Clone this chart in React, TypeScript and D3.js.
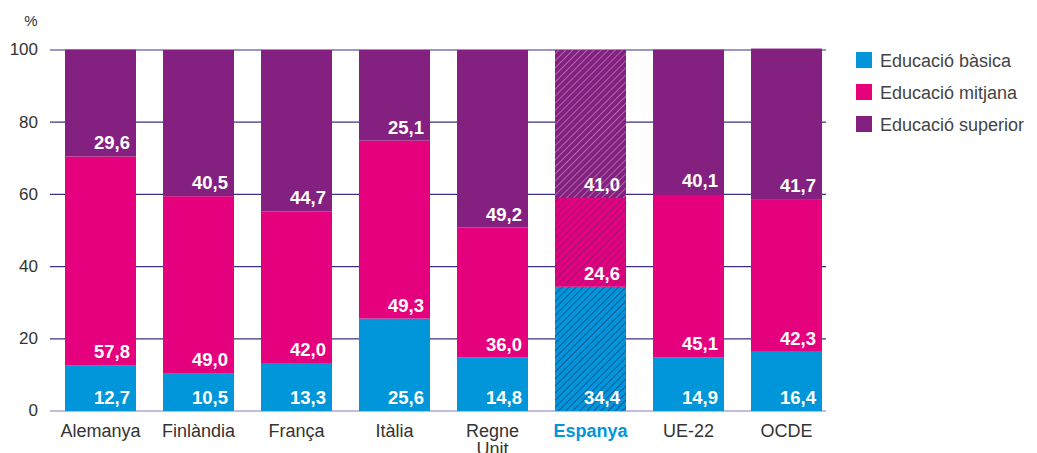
import React, { useRef, useEffect } from 'react';
import * as d3 from 'd3';

const countries = ['Alemanya', 'Finlàndia', 'França', 'Itàlia', 'Regne Unit', 'Espanya', 'UE-22', 'OCDE'];
const basica = [12.7, 10.5, 13.3, 25.6, 14.8, 34.4, 14.9, 16.4];
const mitjana = [57.8, 49.0, 42.0, 49.3, 36.0, 24.6, 45.1, 42.3];
const superior = [29.6, 40.5, 44.7, 25.1, 49.2, 41.0, 40.1, 41.7];
const seriesNames = ['Educació bàsica', 'Educació mitjana', 'Educació superior'];
const yTicks = [0, 20, 40, 60, 80, 100];
const highlight = 'Espanya';

const colors = ['#0096d9', '#e5007e', '#84207f'];
const hatchColors = ['#1b4f95', '#8c1a7c', '#b070b0'];

const App = () => {
  const svgRef = useRef<SVGSVGElement>(null);

  useEffect(() => {
    document.body.style.margin = '0';
    const svg = d3.select(svgRef.current);
    svg.selectAll('*').remove();

    const font = '"Liberation Sans", Arial, sans-serif';

    const x = d3.scaleBand<string>()
      .domain(countries)
      .range([51.5, 835.5])
      .paddingInner(27 / 98)
      .paddingOuter(13.5 / 98);

    const y = d3.scaleLinear().domain([0, 100]).range([411, 50]);

    const defs = svg.append('defs');
    colors.forEach((c, i) => {
      const p = defs.append('pattern')
        .attr('id', `hatch${i}`)
        .attr('patternUnits', 'userSpaceOnUse')
        .attr('width', 5)
        .attr('height', 5)
        .attr('patternTransform', 'rotate(45)');
      p.append('rect').attr('width', 5).attr('height', 5).attr('fill', c);
      p.append('line')
        .attr('x1', 0).attr('y1', 0).attr('x2', 0).attr('y2', 5)
        .attr('stroke', hatchColors[i])
        .attr('stroke-width', 1.8);
    });

    // gridlines
    svg.append('g')
      .selectAll('line')
      .data(yTicks)
      .enter()
      .append('line')
      .attr('x1', 50)
      .attr('x2', 826)
      .attr('y1', d => y(d))
      .attr('y2', d => y(d))
      .attr('stroke', d => (d === 0 ? '#8a7bb8' : '#3f2f86'))
      .attr('stroke-width', 1.2);

    svg.append('g')
      .selectAll('text')
      .data(yTicks)
      .enter()
      .append('text')
      .attr('x', 38)
      .attr('y', d => y(d) + 1)
      .attr('text-anchor', 'end')
      .attr('dominant-baseline', 'middle')
      .style('font-family', font)
      .style('font-size', '17px')
      .style('fill', '#333')
      .text(d => d);

    svg.append('text')
      .attr('x', 31)
      .attr('y', 26)
      .attr('text-anchor', 'middle')
      .style('font-family', font)
      .style('font-size', '15px')
      .style('fill', '#333')
      .text('%');

    const stackData = countries.map((c, i) => ({ country: c, b: basica[i], m: mitjana[i], s: superior[i] }));
    const stack = d3.stack<any>().keys(['b', 'm', 's'])(stackData);

    stack.forEach((layer, li) => {
      const g = svg.append('g');
      g.selectAll('rect')
        .data(layer)
        .enter()
        .append('rect')
        .attr('x', d => x(d.data.country)!)
        .attr('width', x.bandwidth())
        .attr('y', d => y(d[1]))
        .attr('height', d => y(d[0]) - y(d[1]))
        .attr('fill', d => (d.data.country === highlight ? `url(#hatch${li})` : colors[li]));

      g.selectAll('text')
        .data(layer)
        .enter()
        .append('text')
        .attr('x', d => x(d.data.country)! + x.bandwidth() - 6)
        .attr('y', d => y(d[0]) - 7)
        .attr('text-anchor', 'end')
        .style('font-family', font)
        .style('font-size', '18.5px')
        .style('font-weight', 'bold')
        .style('fill', 'white')
        .text(d => d3.format('.1f')(d[1] - d[0]).replace('.', ','));
    });

    // x labels
    const xl = svg.append('g');
    countries.forEach(c => {
      const words = c === 'Regne Unit' ? ['Regne', 'Unit'] : [c];
      const t = xl.append('text')
        .attr('x', x(c)! + x.bandwidth() / 2)
        .attr('y', 437)
        .attr('text-anchor', 'middle')
        .style('font-family', font)
        .style('font-size', '18px')
        .style('font-weight', c === highlight ? 'bold' : 'normal')
        .style('fill', c === highlight ? '#0096d9' : '#333');
      words.forEach((w, i) => {
        t.append('tspan')
          .attr('x', x(c)! + x.bandwidth() / 2)
          .attr('dy', i === 0 ? 0 : 18)
          .text(w);
      });
    });

    // legend
    const legend = svg.append('g').attr('transform', 'translate(856,52)');
    seriesNames.forEach((n, i) => {
      legend.append('rect')
        .attr('x', 0)
        .attr('y', i * 32)
        .attr('width', 16)
        .attr('height', 16)
        .attr('fill', colors[i]);
      legend.append('text')
        .attr('x', 24)
        .attr('y', i * 32 + 15)
        .style('font-family', font)
        .style('font-size', '18px')
        .style('fill', '#444')
        .text(n);
    });
  }, []);

  return (
    <svg ref={svgRef} width={1037} height={453} style={{ display: 'block' }} />
  );
};

export default App;
